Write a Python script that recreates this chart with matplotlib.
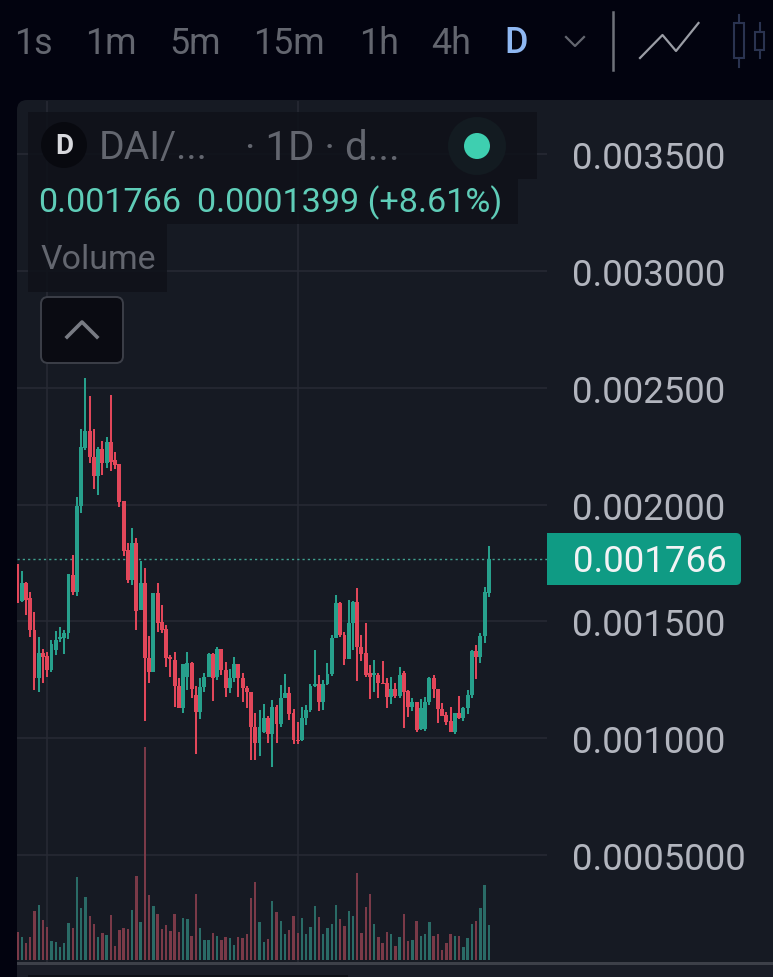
import matplotlib
matplotlib.use('Agg')
import matplotlib.pyplot as plt
from matplotlib.patches import FancyBboxPatch, Circle, Rectangle

plt.rcParams['font.family'] = ['Roboto', 'DejaVu Sans']

# daily candles, prices in millionths
opens = [1711, 1587, 1664, 1600, 1463, 1257, 1364, 1351, 1291, 1377, 1424, 1428, 1450, 1698, 1626, 1994,
         2243, 2315, 2204, 2123, 2238, 2178, 2268, 2191, 2174, 2015, 1805, 1677, 1835, 1548, 1664, 1343,
         1283, 1621, 1497, 1467, 1347, 1334, 1223, 1129, 1261, 1321, 1184, 1111, 1219, 1261, 1360, 1261,
         1381, 1291, 1214, 1257, 1317, 1257, 1214, 1197, 1047, 979, 1026, 1086, 1017, 1133, 1060, 1171,
         1193, 1107, 991, 991, 1086, 1120, 1223, 1231, 1154, 1231, 1274, 1428, 1578, 1441, 1338, 1493,
         1583, 1390, 1364, 1278, 1270, 1270, 1236, 1236, 1176, 1210, 1180, 1278, 1201, 1133, 1154, 1039,
         1039, 1154, 1257, 1210, 1124, 1099, 1073, 1026, 1107, 1086, 1129, 1184, 1373, 1347, 1437, 1621]
highs = [1745, 1716, 1668, 1626, 1540, 1433, 1381, 1368, 1420, 1458, 1476, 1463, 1703, 1784, 2033, 2324,
         2542, 2465, 2324, 2247, 2272, 2290, 2470, 2225, 2174, 2015, 1835, 1900, 1857, 1758, 1728, 1437,
         1621, 1664, 1570, 1484, 1356, 1368, 1257, 1317, 1368, 1326, 1223, 1257, 1278, 1364, 1364, 1390,
         1381, 1326, 1296, 1347, 1317, 1278, 1223, 1197, 1107, 1120, 1146, 1094, 1163, 1141, 1227, 1274,
         1219, 1124, 1069, 1133, 1141, 1231, 1377, 1270, 1248, 1321, 1441, 1613, 1583, 1454, 1591, 1587,
         1643, 1441, 1493, 1313, 1334, 1278, 1330, 1257, 1261, 1236, 1304, 1287, 1206, 1171, 1154, 1167,
         1176, 1261, 1270, 1210, 1150, 1111, 1133, 1107, 1180, 1133, 1206, 1377, 1398, 1450, 1647, 1823]
lows = [1578, 1583, 1527, 1433, 1206, 1197, 1236, 1261, 1283, 1356, 1411, 1360, 1424, 1613, 1608, 1964,
        2234, 2178, 2067, 2041, 2127, 2157, 2144, 2153, 1990, 1780, 1664, 1656, 1463, 1548, 1073, 1236,
        1283, 1454, 1450, 1304, 1261, 1133, 1129, 1107, 1206, 1171, 931, 1081, 1197, 1261, 1159, 1248,
        1270, 1176, 1193, 1240, 1176, 1154, 1129, 906, 906, 923, 1021, 979, 876, 979, 1047, 1171,
        1077, 974, 974, 987, 1056, 1111, 1219, 1116, 1120, 1227, 1266, 1428, 1433, 1313, 1338, 1377,
        1244, 1330, 1261, 1167, 1197, 1171, 1231, 1129, 1146, 1171, 1171, 1043, 1090, 1116, 1026, 1034,
        1030, 1141, 1171, 1064, 1094, 1056, 1026, 1017, 1081, 1073, 1103, 1171, 1253, 1321, 1407, 1604]
closes = [1591, 1664, 1591, 1463, 1257, 1364, 1347, 1291, 1403, 1420, 1433, 1450, 1703, 1626, 1994, 2247,
          2315, 2204, 2123, 2238, 2178, 2268, 2183, 2170, 2011, 1801, 1677, 1835, 1544, 1664, 1343, 1283,
          1621, 1493, 1463, 1343, 1338, 1223, 1129, 1317, 1321, 1210, 1111, 1219, 1261, 1360, 1257, 1381,
          1291, 1214, 1257, 1317, 1257, 1214, 1197, 1047, 979, 1047, 1086, 1017, 1133, 1060, 1171, 1193,
          1103, 991, 987, 1086, 1120, 1223, 1231, 1154, 1231, 1274, 1428, 1578, 1441, 1338, 1493, 1583,
          1390, 1360, 1270, 1261, 1278, 1236, 1231, 1176, 1210, 1180, 1270, 1197, 1133, 1154, 1034, 1129,
          1154, 1257, 1210, 1124, 1094, 1069, 1026, 1107, 1086, 1129, 1184, 1373, 1347, 1437, 1626, 1766]
volumes = [85, 70, 50, 68, 147, 165, 120, 100, 58, 55, 40, 50, 112, 95, 249, 157, 189, 132, 108, 70,
           82, 75, 135, 43, 90, 96, 93, 151, 252, 114, 640, 195, 162, 139, 93, 105, 87, 139, 85, 126,
           123, 72, 199, 96, 60, 60, 82, 72, 60, 69, 66, 45, 69, 66, 78, 186, 234, 115, 54, 64,
           178, 144, 118, 78, 90, 132, 82, 126, 78, 99, 162, 129, 78, 96, 108, 165, 123, 103, 147, 132,
           261, 81, 159, 198, 108, 69, 51, 83, 78, 42, 69, 138, 57, 60, 118, 72, 78, 115, 72, 78,
           30, 51, 78, 72, 72, 40, 67, 108, 117, 156, 225, 105]

price_ticks = [500, 1000, 1500, 2000, 2500, 3000, 3500]
price_labels = ['0.0005000', '0.001000', '0.001500', '0.002000', '0.002500', '0.003000', '0.003500']
date_ticks = [7, 66]
intervals = ['1s', '1m', '5m', '15m', '1h', '4h']
interval_x = [14, 85, 169, 253, 359, 431]
last_price = 1766

BG = '#02030f'
PANEL = '#161a23'
GRID = '#272a34'
UP = '#27a08c'
DOWN = '#e2475a'
UP_VOL = '#2a6b66'
DOWN_VOL = '#7a3a48'
GREY = '#63666f'
LABEL = '#b2b5be'

fig = plt.figure(figsize=(7.73, 9.78), dpi=100, facecolor=BG)

# background chrome in pixel coords
back = fig.add_axes([0, 0, 1, 1], zorder=0)
back.set_xlim(0, 773)
back.set_ylim(978, 0)
back.axis('off')
back.add_patch(FancyBboxPatch((17, 101), 800, 950, boxstyle='round,pad=0,rounding_size=10',
                              fc=PANEL, ec='none'))
back.add_patch(Rectangle((17, 965), 756, 13, fc='#1a1d27', ec='none'))
back.add_patch(Rectangle((28, 976), 320, 2, fc='#0e1017', ec='none'))

# price axes
ax = fig.add_axes([17 / 773, (978 - 963) / 978, 530 / 773, 861 / 978], zorder=1)
ax.patch.set_alpha(0)
for s in ax.spines.values():
    s.set_visible(False)
ax.set_xlim(-0.12, 124.7)
ax.set_ylim(40.3, 3729)
ax.set_xticks(date_ticks)
ax.set_xticklabels([])
ax.yaxis.tick_right()
ax.set_yticks(price_ticks)
ax.set_yticklabels(price_labels)
ax.tick_params(length=0, labelsize=26.4, labelcolor=LABEL, pad=18.3)
for label in ax.get_yticklabels():
    label.set_verticalalignment('center_baseline')
ax.grid(True, color=GRID, linewidth=1.1)
ax.set_axisbelow(True)

for i in range(len(opens)):
    col = UP if closes[i] >= opens[i] else DOWN
    ax.vlines(i, lows[i], highs[i], color=col, linewidth=1.45, zorder=3)
    ax.bar(i, abs(closes[i] - opens[i]), bottom=min(opens[i], closes[i]), width=0.92,
           color=col, zorder=3)

ax.axhline(last_price, color='#3f9e8e', linewidth=1.0, linestyle=(0, (1.6, 2.2)), zorder=2)

# volume sits on its own scale at the bottom of the pane
ax_vol = fig.add_axes([17 / 773, (978 - 961) / 978, 530 / 773, 260 / 978], zorder=2)
ax_vol.patch.set_alpha(0)
ax_vol.axis('off')
ax_vol.set_xlim(-0.12, 124.7)
ax_vol.set_ylim(0, 780)
vol_colors = [UP_VOL if closes[i] >= opens[i] else DOWN_VOL for i in range(len(volumes))]
ax_vol.bar(range(len(volumes)), volumes, width=0.56, color=vol_colors)

# everything on top of the chart
top = fig.add_axes([0, 0, 1, 1], zorder=3)
top.patch.set_alpha(0)
top.set_xlim(0, 773)
top.set_ylim(977, -1)
top.axis('off')
top.add_patch(Rectangle((17, 961.5), 756, 3, fc='#3d4049', ec='none'))

for lab, x in zip(intervals, interval_x):
    top.text(x, 43, lab, color=GREY, fontsize=25.8, va='center', ha='left')
top.text(504, 43, 'D', color='#8fb8f2', fontsize=25.8, va='center', ha='left', fontweight='medium')
top.plot([566, 575, 584], [37, 46, 37], color=GREY, linewidth=1.6)
top.plot([613, 613], [12, 70], color='#6f727a', linewidth=1.8)
top.plot([640, 662.5, 676, 698.5], [58, 35, 51, 23], color='#9a9da5', linewidth=1.6)
for x0, x1, y0, y1, w0, w1 in [(734, 744, 23, 58, 15, 67), (755, 764, 32, 50, 23, 58)]:
    top.add_patch(Rectangle((x0, y0), x1 - x0, y1 - y0, fc='none', ec='#2a3350', lw=1.5))
    top.plot([(x0 + x1) / 2] * 2, [w0, y0], color='#2a3350', linewidth=1.5)
    top.plot([(x0 + x1) / 2] * 2, [y1, w1], color='#2a3350', linewidth=1.5)

# legend boxes
for x0, y0, x1, y1 in [(28, 112, 537, 179), (28, 179, 518, 224), (28, 224, 167, 292)]:
    top.add_patch(Rectangle((x0, y0), x1 - x0, y1 - y0, fc='#10121a', ec='none', alpha=0.9))
top.add_patch(Circle((64, 145), 23, fc='#08090f', ec='none'))
top.text(64, 146, 'D', color='#d8d9de', fontsize=20, fontweight='bold', ha='center', va='center')
top.text(99, 148, 'DAI/...', color=GREY, fontsize=28.2, va='center', ha='left')
top.text(245, 148, '· 1D · d...', color=GREY, fontsize=29, va='center', ha='left')
top.add_patch(Circle((477, 146), 29, fc='#131b21', ec='none'))
top.add_patch(Circle((477, 146), 13, fc='#3ecfb0', ec='none'))
top.text(38, 202, '0.001766', color='#5fcdb8', fontsize=24.6, va='center', ha='left')
top.text(197, 202, '0.0001399 (+8.61%)', color='#5fcdb8', fontsize=24.6, va='center', ha='left')
top.text(41, 259, 'Volume', color=GREY, fontsize=24.4, va='center', ha='left')

top.add_patch(FancyBboxPatch((41, 297), 82, 66, boxstyle='round,pad=0,rounding_size=7',
                             fc='#0a0b12', ec='#3c3f48', lw=1.4))
top.plot([67, 82, 97], [337, 322, 337], color='#787b83', linewidth=2.6)

# last price tag
top.add_patch(FancyBboxPatch((547, 533), 194, 52, boxstyle='round,pad=0,rounding_size=5',
                             fc='#0f9b84', ec='none'))
top.add_patch(Rectangle((547, 533), 10, 52, fc='#0f9b84', ec='none'))
top.text(573, 561, '0.001766', color='#f2f3f5', fontsize=26.4, va='center', ha='left')

fig.savefig('out.png', dpi=100, facecolor=BG)
